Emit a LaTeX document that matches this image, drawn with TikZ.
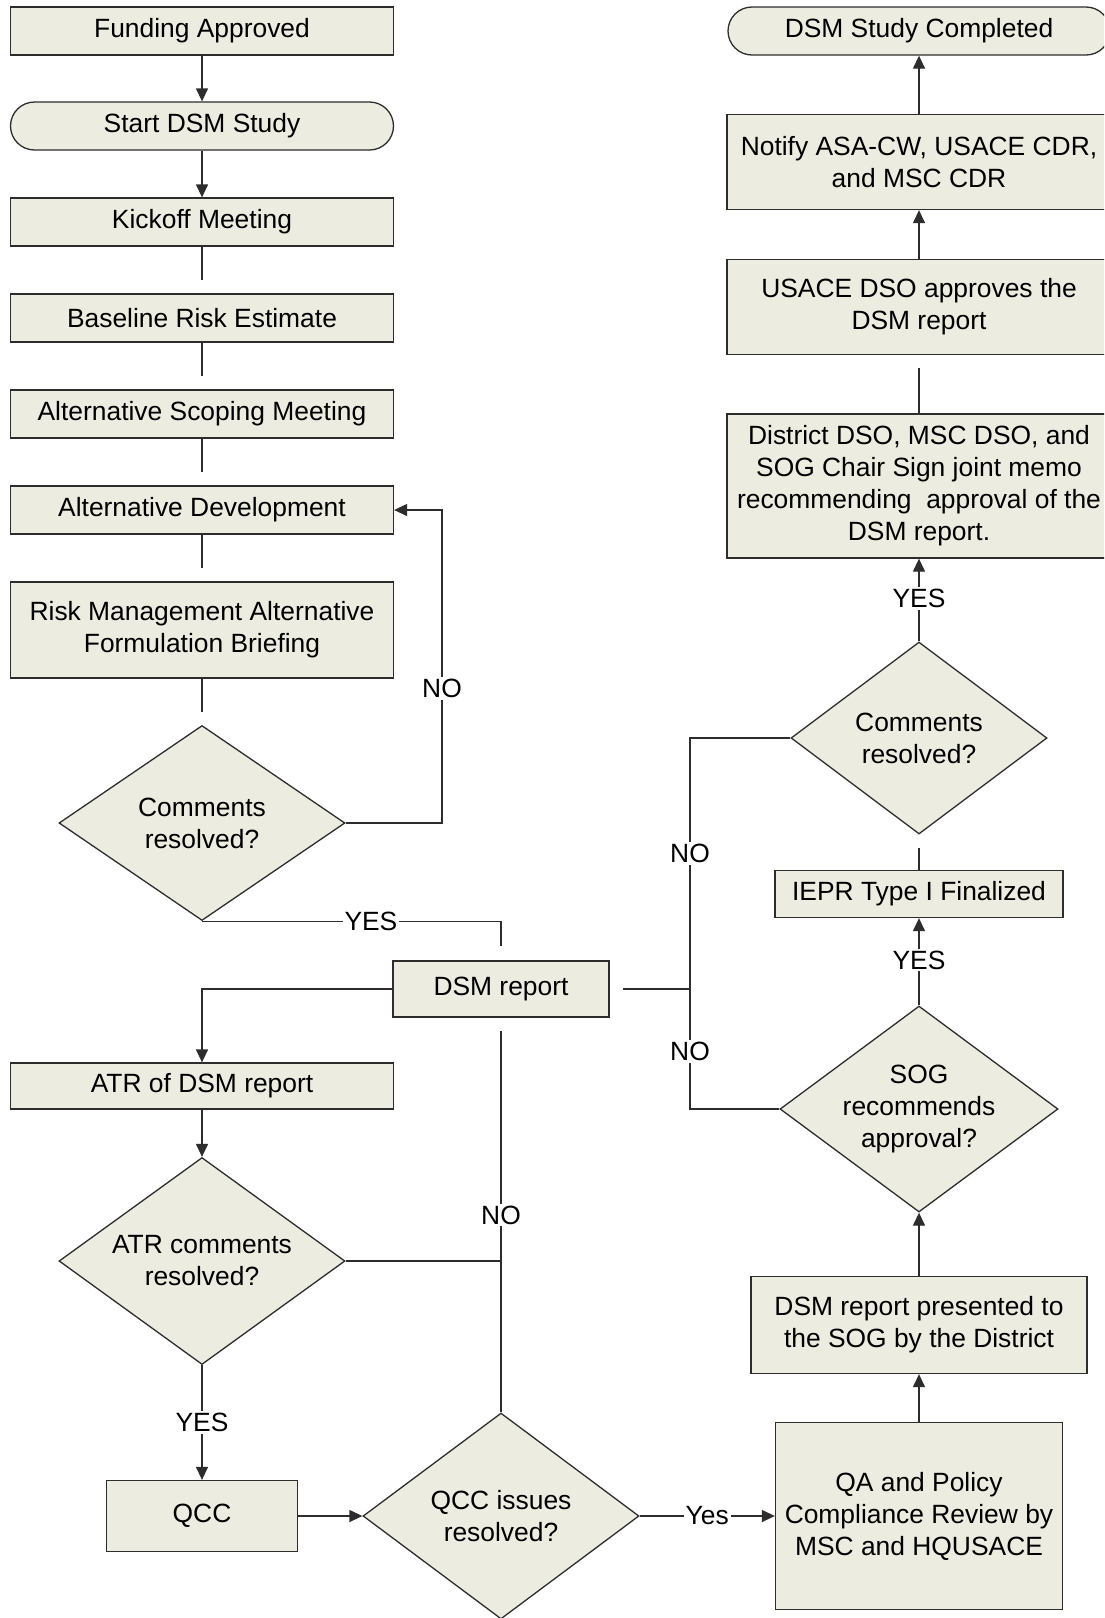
\documentclass[tikz,border=0pt]{standalone}
\usepackage{fontspec}
\setmainfont{Liberation Sans}
\usetikzlibrary{shapes.geometric,arrows.meta}
\definecolor{boxfill}{RGB}{236,236,224}
\definecolor{boxline}{RGB}{45,45,45}
\tikzset{
  every node/.style={font=\fontsize{26.4}{32}\selectfont},
  procbox/.style={draw=boxline, fill=boxfill, line width=1.3pt, align=center, inner sep=0pt},
  termbox/.style={procbox, rounded corners=24pt},
  decbox/.style={draw=boxline, fill=boxfill, line width=1.3pt, diamond, aspect=1.4, align=center, inner sep=0pt},
  conn/.style={draw=boxline, line width=1.3pt},
  arr/.style={conn, -{Triangle[length=13pt,width=12pt]}},
  gap/.style={conn, shorten >=13pt},
  lbl/.style={fill=white, inner sep=2pt},
}
\begin{document}
\begin{tikzpicture}[x=1pt, y=-1pt]
\useasboundingbox (0,0) rectangle (1104,1618);
\fill[white] (0,0) rectangle (1104,1618);
\clip (0,0) rectangle (1104,1618);
% left column
\node[procbox, minimum width=383pt, minimum height=48pt] (fund) at (202,31) {Funding Approved};
\node[termbox, minimum width=383pt, minimum height=48pt] (start) at (202,126) {Start DSM Study};
\node[procbox, minimum width=383pt, minimum height=48pt] (kick) at (202,222) {Kickoff Meeting};
\node[procbox, minimum width=383pt, minimum height=48pt] (base) at (202,318) {Baseline Risk Estimate};
\node[procbox, minimum width=383pt, minimum height=48pt] (scope) at (202,414) {Alternative Scoping Meeting};
\node[procbox, minimum width=383pt, minimum height=48pt] (altdev) at (202,510) {Alternative Development};
\node[procbox, minimum width=383pt, minimum height=96pt] (brief) at (202,630) {Risk Management Alternative\\Formulation Briefing};
\node[decbox, minimum width=286pt, minimum height=195pt] (dec1) at (202,823) {Comments\\resolved?};
\node[procbox, minimum width=216pt, minimum height=56pt] (dsm) at (501,989) {DSM report};
\node[procbox, minimum width=383pt, minimum height=46pt] (atr) at (202,1086) {ATR of DSM report};
\node[decbox, minimum width=286pt, minimum height=207pt] (dec2) at (202,1261) {ATR comments\\resolved?};
\node[procbox, minimum width=191pt, minimum height=71pt] (qcc) at (202,1516) {QCC};
\node[decbox, minimum width=276pt, minimum height=206pt] (dec3) at (501,1516) {QCC issues\\resolved?};
% right column
\node[procbox, minimum width=287pt, minimum height=187pt] (qa) at (919,1516) {QA and Policy\\Compliance Review by\\MSC and HQUSACE};
\node[procbox, minimum width=336pt, minimum height=97pt] (pres) at (919,1325) {DSM report presented to\\the SOG by the District};
\node[decbox, aspect=1.35, minimum width=278pt, minimum height=206pt] (sog) at (919,1109) {SOG\\recommends\\approval?};
\node[procbox, minimum width=288pt, minimum height=47pt] (iepr) at (919,894) {IEPR Type I Finalized};
\node[decbox, minimum width=256pt, minimum height=192pt] (dec4) at (919,738) {Comments\\resolved?};
\node[procbox, minimum width=384pt, minimum height=144pt] (memo) at (919,486) {District DSO, MSC DSO, and\\SOG Chair Sign joint memo\\recommending~ approval of the\\DSM report.};
\node[procbox, minimum width=384pt, minimum height=95pt] (dso) at (919,307) {USACE DSO approves the\\DSM report};
\node[procbox, minimum width=384pt, minimum height=95pt] (notify) at (919,162) {Notify ASA-CW, USACE CDR,\\and MSC CDR};
\node[termbox, minimum width=382pt, minimum height=48pt] (done) at (919,31) {DSM Study Completed};
\coordinate (loopx) at (442,823);
\coordinate (nojoin) at (690,989);
% connectors
\draw[arr] (fund) -- (start);
\draw[arr] (start) -- (kick);
\draw[gap] (kick) -- (base);
\draw[gap] (base) -- (scope);
\draw[gap] (scope) -- (altdev);
\draw[gap] (altdev) -- (brief);
\draw[gap] (brief) -- (dec1);
\draw[arr] (dec1.east) -- (loopx) -- node[lbl, pos=0.43] {NO} (loopx |- altdev.east) -- (altdev.east);
\draw[gap, shorten >=14pt] (dec1.south) -- node[lbl, pos=0.565] {YES} (dec1.south -| dsm.north) -- (dsm.north);
\draw[arr] (dsm.west) -| (atr.north);
\draw[arr] (atr) -- (dec2);
\draw[conn] (dec2.east) -- (dec2.east -| dsm.south);
\draw[gap] (dec3.north) -- node[lbl, pos=0.5] {NO} (dsm.south);
\draw[arr] (dec2.south) -- node[lbl] {YES} (qcc.north);
\draw[arr] (qcc) -- (dec3);
\draw[arr] (dec3) -- node[lbl] {Yes} (qa);
\draw[arr] (qa) -- (pres);
\draw[arr] (pres) -- (sog);
\draw[conn] (sog.west) -| node[lbl, pos=0.74] {NO} (nojoin);
\draw[conn] (dec4.west) -| node[lbl, pos=0.73] {NO} (nojoin);
\draw[gap] (nojoin) -- (dsm.east);
\draw[arr] (sog) -- node[lbl, pos=0.52] {YES} (iepr);
\draw[gap] (iepr) -- (dec4);
\draw[arr] (dec4) -- node[lbl, pos=0.52] {YES} (memo);
\draw[gap] (memo) -- (dso);
\draw[arr] (dso) -- (notify);
\draw[arr] (notify) -- (done);
\end{tikzpicture}
\end{document}
